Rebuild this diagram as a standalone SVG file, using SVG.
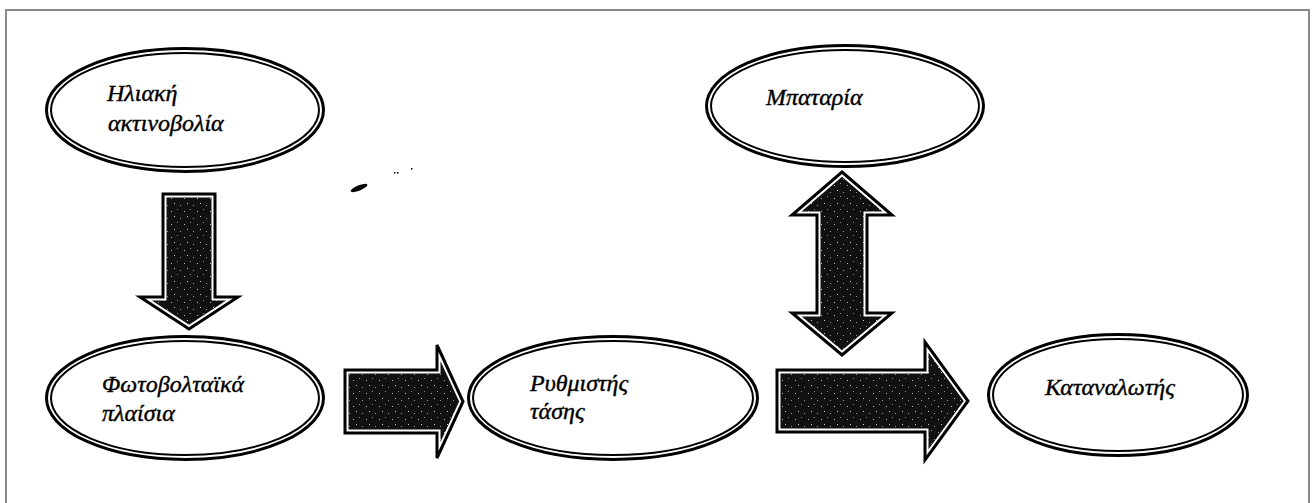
<svg xmlns="http://www.w3.org/2000/svg" width="1315" height="503" viewBox="0 0 1315 503">
  <defs>
    <!-- speckled dark fill used inside the block arrows -->
    <pattern id="stipple" width="13" height="13" patternUnits="userSpaceOnUse">
      <rect width="13" height="13" fill="#111"/>
      <rect x="2" y="3" width="1" height="1" fill="#bbb"/>
      <rect x="8" y="1" width="1" height="1" fill="#888"/>
      <rect x="5" y="8" width="1" height="1" fill="#ccc"/>
      <rect x="11" y="10" width="1" height="1" fill="#999"/>
    </pattern>
    <style>
      .frame { fill: none; stroke: #8a8a8a; stroke-width: 2; }
      .outer { fill: #fff; stroke: #000; stroke-width: 3; }
      .inner { fill: none; stroke: #000; stroke-width: 2; }
      .label { font-family: 'Liberation Serif', 'Times New Roman', serif; font-style: italic; font-size: 24px; fill: #000; stroke: #000; stroke-width: 0.4; }
      .body { fill: url(#stipple); stroke: #fff; stroke-width: 7; stroke-linejoin: miter; }
      .edge { fill: none; stroke: #000; stroke-width: 3; stroke-linejoin: miter; }
    </style>
  </defs>

  <rect width="1315" height="503" fill="#fff"/>
  <rect class="frame" x="6" y="10" width="1303" height="520"/>

  <!-- block arrows -->
  <g id="connectors">
    <g id="arrow-sun-to-panels">
      <path class="body" d="M163,194 H215 V297 H238 L189,329 L140,297 H163 Z"/>
      <path class="edge" d="M163,194 H215 V297 H238 L189,329 L140,297 H163 Z"/>
    </g>
    <g id="arrow-panels-to-regulator">
      <path class="body" d="M345,370 H437 V345 L463,401.5 L437,458 V433 H345 Z"/>
      <path class="edge" d="M345,370 H437 V345 L463,401.5 L437,458 V433 H345 Z"/>
    </g>
    <g id="arrow-battery-both-ways">
      <path class="body" d="M842,172 L892,215 H867 V313 H892 L842,355 L792,313 H817 V215 H792 Z"/>
      <path class="edge" d="M842,172 L892,215 H867 V313 H892 L842,355 L792,313 H817 V215 H792 Z"/>
    </g>
    <g id="arrow-to-consumer">
      <path class="body" d="M777,370 H925 V342 L968,401 L925,460 V432 H777 Z"/>
      <path class="edge" d="M777,370 H925 V342 L968,401 L925,460 V432 H777 Z"/>
    </g>
  </g>

  <g id="node-solar">
    <ellipse class="outer" cx="185" cy="110" rx="138.5" ry="61.5"/>
    <ellipse class="inner" cx="185" cy="110" rx="134" ry="57"/>
    <text class="label" x="107" y="101">Ηλιακή</text>
    <text class="label" x="108" y="131">ακτινοβολία</text>
  </g>

  <g id="node-panels">
    <ellipse class="outer" cx="185" cy="398" rx="138.5" ry="61.5"/>
    <ellipse class="inner" cx="185" cy="398" rx="134" ry="57"/>
    <text class="label" x="102" y="392">Φωτοβολταϊκά</text>
    <text class="label" x="102" y="421">πλαίσια</text>
  </g>

  <g id="node-regulator">
    <ellipse class="outer" cx="613" cy="398" rx="144.5" ry="61.5"/>
    <ellipse class="inner" cx="613" cy="398" rx="140" ry="57"/>
    <text class="label" x="530" y="391">Ρυθμιστής</text>
    <text class="label" x="530" y="419">τάσης</text>
  </g>

  <g id="node-battery">
    <ellipse class="outer" cx="845" cy="106" rx="138.5" ry="60.5"/>
    <ellipse class="inner" cx="845" cy="106" rx="134" ry="56"/>
    <text class="label" x="766" y="105">Μπαταρία</text>
  </g>

  <g id="node-consumer">
    <ellipse class="outer" cx="1118" cy="395" rx="129.5" ry="60.5"/>
    <ellipse class="inner" cx="1118" cy="395" rx="125" ry="56"/>
    <text class="label" x="1045" y="395">Καταναλωτής</text>
  </g>

  <!-- small ink smudge -->
  <g id="smudge" fill="#000">
    <ellipse cx="359" cy="188" rx="9" ry="2.6" transform="rotate(-22 359 188)"/>
    <rect x="394" y="172" width="1.5" height="1.5"/>
    <rect x="397" y="172" width="1.5" height="1.5"/>
    <rect x="411" y="168" width="1.5" height="1.5"/>
  </g>
</svg>
